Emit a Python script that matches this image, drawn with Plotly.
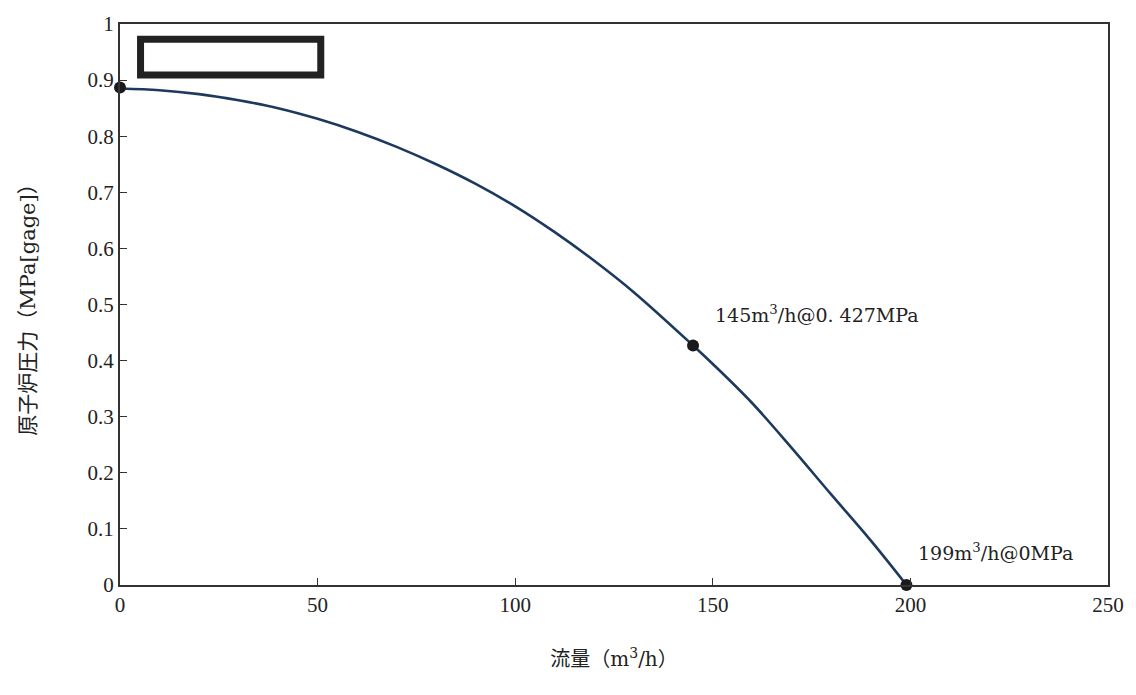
import plotly.graph_objects as go

# Pump characteristic: reactor pressure vs. flow
flow = [0, 10, 20, 30, 40, 50, 60, 70, 80, 90, 100, 110, 120, 130, 145, 150,
        160, 170, 180, 190, 199]
pressure = [0.885, 0.882, 0.875, 0.864, 0.850, 0.831, 0.808, 0.781, 0.750, 0.715,
            0.675, 0.629, 0.578, 0.522, 0.427, 0.394, 0.324, 0.244, 0.161, 0.079, 0.0]

# Highlighted operating points
point_flow = [0, 145, 199]
point_pressure = [0.887, 0.427, 0.0]

x_ticks = [0, 50, 100, 150, 200, 250]
y_ticks = [0, 0.1, 0.2, 0.3, 0.4, 0.5, 0.6, 0.7, 0.8, 0.9, 1]
y_tick_text = ["0", "0.1", "0.2", "0.3", "0.4", "0.5", "0.6", "0.7", "0.8", "0.9", "1"]

TICK_FONT = "Liberation Serif, serif"
TEXT_FONT = "DejaVu Serif, Noto Sans CJK JP, serif"

fig = go.Figure()
fig.add_trace(go.Scatter(
    x=flow, y=pressure, mode="lines",
    line=dict(color="#1d3a5e", width=2.6, shape="spline", smoothing=1.0),
    hoverinfo="skip", showlegend=False,
))
fig.add_trace(go.Scatter(
    x=point_flow, y=point_pressure, mode="markers",
    marker=dict(color="#1a1a1a", size=12),
    cliponaxis=False, showlegend=False,
))

fig.add_annotation(x=150.1, y=0.483, xref="x", yref="y", xanchor="left", yanchor="middle",
                   text="145m<sup>3</sup>/h@0. 427MPa", showarrow=False,
                   font=dict(family=TEXT_FONT, size=19, color="#222"))
fig.add_annotation(x=201.5, y=0.058, xref="x", yref="y", xanchor="left", yanchor="middle",
                   text="199m<sup>3</sup>/h@0MPa", showarrow=False,
                   font=dict(family=TEXT_FONT, size=19, color="#222"))

# Blank label frame in the upper-left corner
fig.add_shape(type="rect", xref="x", yref="y",
              x0=5.2, x1=50.8, y0=0.909, y1=0.973,
              line=dict(color="#222", width=7), fillcolor="rgba(0,0,0,0)")

fig.update_layout(
    width=1136, height=695,
    margin=dict(l=120, r=26, t=20, b=110),
    paper_bgcolor="white", plot_bgcolor="white",
    font=dict(family=TICK_FONT, size=20, color="#222"),
    xaxis=dict(
        range=[0, 250], tickvals=x_ticks, ticktext=[str(v) for v in x_ticks],
        showgrid=False, zeroline=False,
        showline=True, linecolor="#333", linewidth=2, mirror=True,
        ticks="inside", ticklen=7, tickcolor="#333",
        tickfont=dict(family=TICK_FONT, size=21, color="#222"),
        title=dict(text="流量（m<sup>3</sup>/h）", standoff=36,
                   font=dict(family=TEXT_FONT, size=20, color="#222")),
    ),
    yaxis=dict(
        range=[0, 1], tickvals=y_ticks, ticktext=y_tick_text,
        showgrid=False, zeroline=False,
        showline=True, linecolor="#333", linewidth=2, mirror=True,
        ticks="inside", ticklen=7, tickcolor="#333",
        tickfont=dict(family=TICK_FONT, size=21, color="#222"),
        title=dict(text="原子炉圧力（MPa[gage]）", standoff=46,
                   font=dict(family=TEXT_FONT, size=21, color="#222")),
    ),
)

fig.write_html("out.html")
